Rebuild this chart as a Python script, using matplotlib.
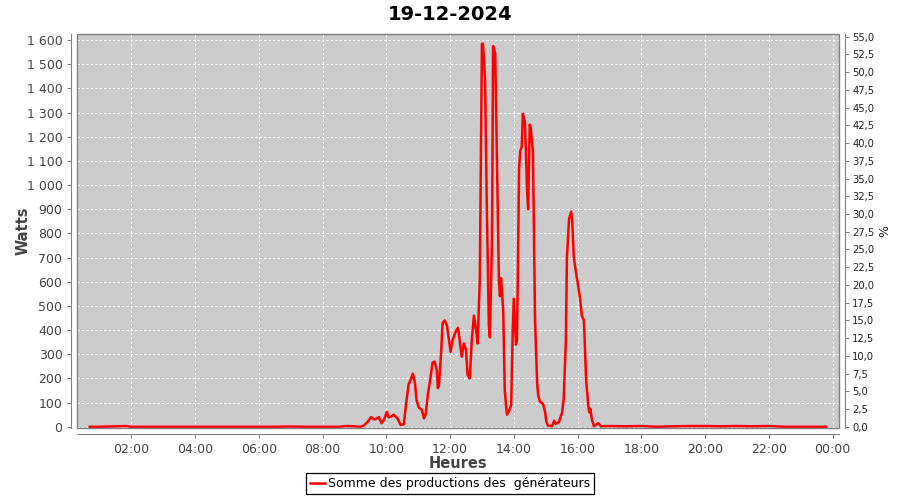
import matplotlib.pyplot as plt
from matplotlib.patches import Rectangle
from matplotlib.ticker import FuncFormatter, MultipleLocator

# production readings (time of day, watts)
times = [
    "00:42", "01:00", "01:30", "01:50", "02:00", "02:30", "03:00", "03:30",
    "04:00", "04:30", "05:00", "05:30", "06:00", "06:30", "07:00", "07:30",
    "08:00", "08:30", "08:45", "09:00", "09:10", "09:17", "09:25", "09:31",
    "09:38", "09:46", "09:51", "09:56", "10:01", "10:04", "10:09", "10:14",
    "10:21", "10:27", "10:33", "10:37", "10:42", "10:46", "10:50", "10:54",
    "10:57", "11:01", "11:07", "11:11", "11:14", "11:18", "11:24", "11:27",
    "11:31", "11:35", "11:37", "11:39", "11:43", "11:46", "11:50", "11:54",
    "11:58", "12:01", "12:05", "12:11", "12:15", "12:18", "12:22", "12:26",
    "12:30", "12:33", "12:37", "12:41", "12:45", "12:49", "12:52", "12:56",
    "13:00", "13:02", "13:06", "13:09", "13:13", "13:15", "13:19", "13:21",
    "13:25", "13:28", "13:32", "13:34", "13:36", "13:40", "13:43", "13:47",
    "13:51", "13:55", "13:58", "14:00", "14:04", "14:06", "14:10", "14:12",
    "14:15", "14:17", "14:21", "14:25", "14:27", "14:30", "14:32", "14:36",
    "14:38", "14:40", "14:44", "14:46", "14:49", "14:55", "14:59", "15:01",
    "15:04", "15:12", "15:16", "15:19", "15:25", "15:31", "15:34", "15:38",
    "15:40", "15:44", "15:48", "15:50", "15:53", "15:57", "16:01", "16:05",
    "16:08", "16:12", "16:16", "16:20", "16:22", "16:24", "16:27", "16:31",
    "16:39", "16:44", "17:00", "17:30", "18:00", "18:30", "19:00", "19:30",
    "20:00", "20:30", "21:00", "21:30", "22:00", "22:30", "23:00", "23:30",
    "23:48",
]
watts = [
    0, 0, 2, 3, 0, 0, 0, 0,
    0, 0, 0, 0, 0, 0, 1, 0,
    0, 0, 3, 2, 0, 4, 20, 40,
    30, 40, 15, 30, 62, 40, 42, 50,
    35, 8, 10, 90, 175, 195, 220, 180,
    110, 80, 70, 35, 50, 130, 215, 265,
    270, 235, 160, 170, 300, 430, 440, 420,
    360, 310, 360, 395, 410, 360, 290, 345,
    320, 215, 200, 360, 460, 400, 345, 610,
    1585, 1585, 1435, 940, 420, 370, 775, 1575,
    1545, 1145, 600, 540, 615, 485, 150, 50,
    65, 90, 400, 530, 340, 360, 1070, 1140,
    1160, 1295, 1260, 980, 900, 1250, 1235, 1140,
    800, 440, 175, 130, 105, 95, 60, 25,
    5, 3, 25, 12, 20, 60, 120, 360,
    700, 860, 890, 850, 700, 640, 585, 525,
    460, 440, 200, 90, 60, 75, 30, 2,
    15, 2, 3, 2, 3, 0, 2, 3,
    3, 2, 3, 2, 3, 0, 0, 0,
    0,
]

title = "19-12-2024"
series_label = "Somme des productions des  générateurs"
watts_per_pct = 29.34


def to_hours(t):
    h, m = t.split(":")
    return int(h) + int(m) / 60


def main():
    x = [to_hours(t) for t in times]

    fig = plt.figure(figsize=(9, 5), dpi=100)
    ax = fig.add_axes([0.0856, 0.144, 0.8466, 0.788])
    ax.set_facecolor("#cccccc")

    ax.plot(x, watts, color="#ff0000", linewidth=1.8, label=series_label)

    ax.set_xlim(0.30, 24.2)
    ax.set_ylim(-5, 1625)
    ax.xaxis.set_major_locator(MultipleLocator(2))
    ax.xaxis.set_major_formatter(FuncFormatter(lambda v, p: f"{int(round(v)) % 24:02d}:00"))
    ax.yaxis.set_major_locator(MultipleLocator(100))
    ax.yaxis.set_major_formatter(FuncFormatter(lambda v, p: f"{int(v):,}".replace(",", "\u00a0")))

    ax.grid(True, color="white", linestyle=(0, (2, 2)), linewidth=0.8)
    ax.set_axisbelow(True)

    for s in ("top", "right"):
        ax.spines[s].set_visible(False)
    for s in ("left", "bottom"):
        ax.spines[s].set_position(("outward", 4))
        ax.spines[s].set_color("#808080")
    ax.add_patch(Rectangle((0, 0), 1, 1, transform=ax.transAxes, fill=False,
                           edgecolor="#808080", linewidth=1, clip_on=False, zorder=5))

    ax.tick_params(axis="both", colors="#808080", labelcolor="#444444",
                   labelsize=9, length=3, width=0.8)
    ax.set_xlabel("Heures", fontsize=10.5, fontweight="bold", color="#444444", labelpad=0.5)
    ax.set_ylabel("Watts", fontsize=10.5, fontweight="bold", color="#444444", labelpad=-3)

    ax2 = ax.twinx()
    ax2.set_ylim(-5 / watts_per_pct, 1625 / watts_per_pct)
    ax2.yaxis.set_major_locator(MultipleLocator(2.5))
    ax2.yaxis.set_major_formatter(FuncFormatter(lambda v, p: f"{v:.1f}".replace(".", ",")))
    for s in ("top", "left", "bottom"):
        ax2.spines[s].set_visible(False)
    ax2.spines["right"].set_position(("outward", 4))
    ax2.spines["right"].set_color("#808080")
    ax2.tick_params(axis="y", colors="#808080", labelcolor="#222222",
                    labelsize=7.2, length=3, width=0.8, pad=2.5)
    ax2.set_ylabel("%", fontsize=9, color="#222222", labelpad=3)

    fig.suptitle(title, fontsize=14, fontweight="bold", y=0.99)

    leg = fig.legend(loc="lower center", bbox_to_anchor=(0.5, 0.0), fontsize=9,
                     handlelength=1.2, handletextpad=0.3, fancybox=False,
                     borderpad=0.3, edgecolor="black", framealpha=1)
    leg.get_frame().set_linewidth(0.9)

    fig.savefig("out.png", dpi=100, facecolor="white")
    plt.close(fig)


if __name__ == "__main__":
    main()
